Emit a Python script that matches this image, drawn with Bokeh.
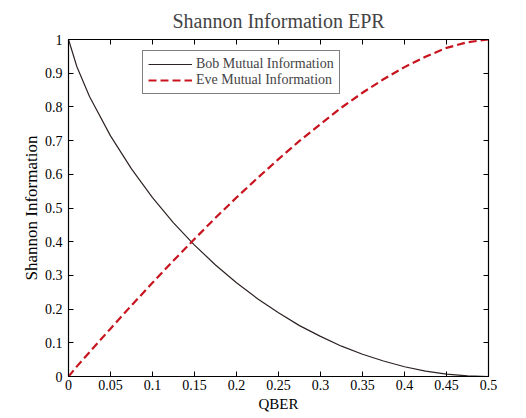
from bokeh.plotting import figure
from bokeh.models import LinearAxis, FixedTicker, Legend, LegendItem, Range1d, ColumnDataSource
from bokeh.embed import file_html
from bokeh.resources import INLINE

qber = [0.0, 0.01, 0.025, 0.05, 0.075, 0.1, 0.125, 0.15, 0.175, 0.2, 0.225, 0.25,
        0.275, 0.3, 0.325, 0.35, 0.375, 0.4, 0.425, 0.45, 0.475, 0.5]
bob = [1.0, 0.919, 0.831, 0.714, 0.616, 0.531, 0.456, 0.390, 0.331, 0.278, 0.231, 0.189,
       0.151, 0.119, 0.090, 0.066, 0.046, 0.029, 0.016, 0.007, 0.002, 0.0]
eve = [0.0, 0.03, 0.072, 0.142, 0.211, 0.278, 0.344, 0.408, 0.471, 0.531, 0.589, 0.645,
       0.699, 0.749, 0.798, 0.842, 0.882, 0.918, 0.949, 0.975, 0.992, 1.0]

x_ticks = [0, 0.05, 0.1, 0.15, 0.2, 0.25, 0.3, 0.35, 0.4, 0.45, 0.5]
x_labels = ["0", "0.05", "0.1", "0.15", "0.2", "0.25", "0.3", "0.35", "0.4", "0.45", "0.5"]
y_ticks = [0, 0.1, 0.2, 0.3, 0.4, 0.5, 0.6, 0.7, 0.8, 0.9, 1]
y_labels = ["0", "0.1", "0.2", "0.3", "0.4", "0.5", "0.6", "0.7", "0.8", "0.9", "1"]

FONT = "Liberation Serif"

p = figure(width=510, height=414, output_backend="svg", toolbar_location=None,
           x_range=Range1d(0, 0.5), y_range=Range1d(0, 1),
           min_border_left=68, min_border_right=22, min_border_top=37, min_border_bottom=38)
p.title.text = "Shannon Information EPR"
p.title.text_font = FONT
p.title.text_font_size = "20px"
p.title.text_font_style = "normal"
p.title.align = "center"
p.title.offset = 0
p.title.standoff = 15

p.grid.visible = False
p.background_fill_color = "white"
p.outline_line_color = "black"
p.outline_line_width = 1.2

src = ColumnDataSource(dict(q=qber, bob=bob, eve=eve))
r_bob = p.line("q", "bob", source=src, line_color="#2e2222", line_width=1.2)
r_eve = p.line("q", "eve", source=src, line_color="#c8141e", line_width=2.2, line_dash="8 4")

def style_axis(ax):
    ax.major_tick_in = 5
    ax.major_tick_out = 0
    ax.minor_tick_in = 0
    ax.minor_tick_out = 0
    ax.axis_line_color = "black"
    ax.major_tick_line_color = "black"
    ax.major_label_text_font = FONT
    ax.major_label_text_font_size = "14px"
    ax.major_label_text_color = "black"
    ax.axis_label_text_font = FONT
    ax.axis_label_text_font_style = "normal"
    ax.axis_label_text_color = "black"

xa = p.xaxis[0]
xa.ticker = FixedTicker(ticks=x_ticks)
xa.major_label_overrides = {t: l for t, l in zip(x_ticks, x_labels)}
style_axis(xa)
xa.axis_label = "QBER"
xa.axis_label_text_font_size = "15px"
xa.axis_label_standoff = 3
xa.major_label_standoff = 3

ya = p.yaxis[0]
ya.ticker = FixedTicker(ticks=y_ticks)
ya.major_label_overrides = {t: l for t, l in zip(y_ticks, y_labels)}
style_axis(ya)
ya.axis_label = "Shannon Information"
ya.axis_label_text_font_size = "17px"
ya.axis_label_standoff = 1
ya.major_label_standoff = 6

ra = LinearAxis(ticker=FixedTicker(ticks=y_ticks))
style_axis(ra)
ra.major_label_overrides = {t: "" for t in y_ticks}
ra.major_label_standoff = 0
p.add_layout(ra, "right")
ta = LinearAxis(ticker=FixedTicker(ticks=x_ticks))
style_axis(ta)
ta.major_label_overrides = {t: "" for t in x_ticks}
ta.major_label_standoff = 0
p.add_layout(ta, "above")

legend = Legend(items=[LegendItem(label="Bob Mutual Information", renderers=[r_bob]),
                       LegendItem(label="Eve Mutual Information", renderers=[r_eve])],
                location=(74, 282))
legend.label_text_font = FONT
legend.label_text_font_size = "14px"
legend.glyph_width = 44
legend.glyph_height = 16
legend.label_height = 16
legend.label_standoff = 4
legend.spacing = 0
legend.padding = 5
legend.margin = 0
legend.border_line_color = "black"
legend.border_line_width = 1
legend.background_fill_alpha = 1
p.add_layout(legend, "center")

open("out.html", "w").write(file_html(p, INLINE))
